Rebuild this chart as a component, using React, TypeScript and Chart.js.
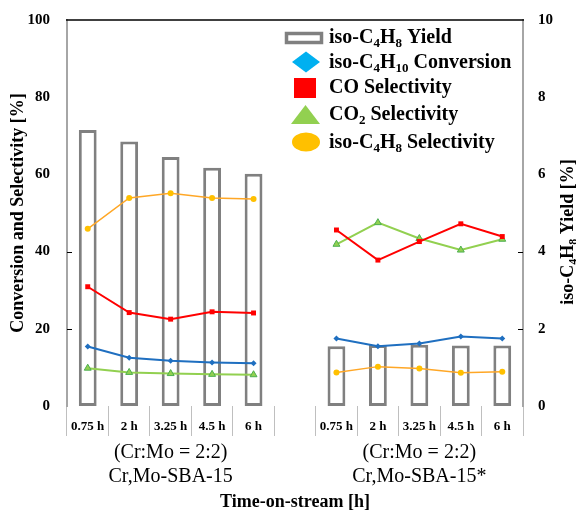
import { useEffect, useRef } from 'react';
import { Chart, registerables } from 'chart.js';

Chart.register(...registerables);

const FONT = "'Liberation Serif', 'Times New Roman', serif";

const categories = ['0.75 h', '2 h', '3.25 h', '4.5 h', '6 h', '', '0.75 h', '2 h', '3.25 h', '4.5 h', '6 h'];
const yieldData = [7.15, 6.85, 6.45, 6.17, 6.02, null, 1.55, 1.58, 1.59, 1.57, 1.57];
const conversion = [15.4, 12.5, 11.7, 11.3, 11.1, null, 17.5, 15.5, 16.2, 18.0, 17.5];
const coSelectivity = [30.9, 24.2, 22.5, 24.4, 24.1, null, 45.6, 37.8, 42.6, 47.2, 43.9];
const co2Selectivity = [9.8, 8.7, 8.4, 8.2, 8.1, null, 41.9, 47.5, 43.4, 40.4, 43.2];
const isoSelectivity = [45.9, 53.9, 55.1, 53.9, 53.6, null, 8.7, 10.2, 9.7, 8.6, 8.9];

const groupCenters = [2, 8];
const groupLabels = [
  ['(Cr:Mo = 2:2)', 'Cr,Mo-SBA-15'],
  ['(Cr:Mo = 2:2)', 'Cr,Mo-SBA-15*'],
];
const innerTicksLeft = [20, 40];
const innerTicksRight = [2, 4];

type Part = [string, boolean];

const legendItems: { parts: Part[]; kind: string; color: string }[] = [
  { parts: [['iso-C', false], ['4', true], ['H', false], ['8', true], [' Yield', false]], kind: 'bar', color: '#808080' },
  { parts: [['iso-C', false], ['4', true], ['H', false], ['10', true], [' Conversion', false]], kind: 'diamond', color: '#00B0F0' },
  { parts: [['CO Selectivity', false]], kind: 'square', color: '#FF0000' },
  { parts: [['CO', false], ['2', true], [' Selectivity', false]], kind: 'triangle', color: '#92D050' },
  { parts: [['iso-C', false], ['4', true], ['H', false], ['8', true], [' Selectivity', false]], kind: 'circle', color: '#FFC000' },
];
const rightTitle: Part[] = [['iso-C', false], ['4', true], ['H', false], ['8', true], [' Yield [%]', false]];

function partsWidth(ctx: CanvasRenderingContext2D, parts: Part[], size: number) {
  let w = 0;
  for (const [t, sub] of parts) {
    ctx.font = `bold ${sub ? Math.round(size * 0.65) : size}px ${FONT}`;
    w += ctx.measureText(t).width;
  }
  return w;
}

function drawRich(ctx: CanvasRenderingContext2D, x: number, y: number, parts: Part[], size: number) {
  let cx = x;
  ctx.textAlign = 'left';
  ctx.textBaseline = 'alphabetic';
  for (const [t, sub] of parts) {
    const s = sub ? Math.round(size * 0.65) : size;
    ctx.font = `bold ${s}px ${FONT}`;
    ctx.fillText(t, cx, sub ? y + size * 0.22 : y);
    cx += ctx.measureText(t).width;
  }
}

const overlayPlugin = {
  id: 'overlay',
  afterDraw(chart: any) {
    const ctx: CanvasRenderingContext2D = chart.ctx;
    const { left, right, top } = chart.chartArea;
    const xs = chart.scales.x;
    const ys = chart.scales.y;
    const y1 = chart.scales.y1;
    ctx.save();
    // top frame line
    ctx.strokeStyle = '#000';
    ctx.lineWidth = 1.5;
    ctx.beginPath();
    ctx.moveTo(left - 1, top);
    ctx.lineTo(right + 1, top);
    ctx.stroke();
    // inner tick marks
    ctx.lineWidth = 1;
    innerTicksLeft.forEach((v) => {
      const py = Math.round(ys.getPixelForValue(v)) + 0.5;
      ctx.beginPath();
      ctx.moveTo(left, py);
      ctx.lineTo(left + 5, py);
      ctx.stroke();
    });
    innerTicksRight.forEach((v) => {
      const py = Math.round(y1.getPixelForValue(v)) + 0.5;
      ctx.beginPath();
      ctx.moveTo(right - 5, py);
      ctx.lineTo(right, py);
      ctx.stroke();
    });
    // group labels
    ctx.fillStyle = '#000';
    ctx.textAlign = 'center';
    ctx.textBaseline = 'middle';
    ctx.font = `20px ${FONT}`;
    groupCenters.forEach((idx, i) => {
      const gx = xs.getPixelForValue(idx);
      ctx.fillText(groupLabels[i][0], gx, 453);
      ctx.fillText(groupLabels[i][1], gx, 477);
    });
    // right axis title
    ctx.save();
    ctx.translate(567, 232);
    ctx.rotate(-Math.PI / 2);
    const tw = partsWidth(ctx, rightTitle, 18);
    drawRich(ctx, -tw / 2, 6, rightTitle, 18);
    ctx.restore();
    // legend
    const baselines = [43, 68, 93, 120, 148];
    const centers = [38, 62, 88, 114.5, 142];
    legendItems.forEach((it, i) => {
      const cy = centers[i];
      ctx.fillStyle = it.color;
      ctx.strokeStyle = it.color;
      if (it.kind === 'bar') {
        ctx.lineWidth = 3.5;
        ctx.strokeRect(286.5, cy - 4.5, 35, 9);
      } else if (it.kind === 'diamond') {
        ctx.beginPath();
        ctx.moveTo(306, cy - 10.5);
        ctx.lineTo(320, cy);
        ctx.lineTo(306, cy + 10.5);
        ctx.lineTo(292, cy);
        ctx.closePath();
        ctx.fill();
      } else if (it.kind === 'square') {
        ctx.fillRect(294, cy - 10, 22, 20);
      } else if (it.kind === 'triangle') {
        ctx.beginPath();
        ctx.moveTo(305.5, cy - 9.5);
        ctx.lineTo(320, cy + 9.5);
        ctx.lineTo(291, cy + 9.5);
        ctx.closePath();
        ctx.fill();
      } else {
        ctx.beginPath();
        ctx.ellipse(306, cy, 14, 9.5, 0, 0, Math.PI * 2);
        ctx.fill();
      }
      ctx.fillStyle = '#000';
      drawRich(ctx, 329, baselines[i], it.parts, 20);
    });
    ctx.restore();
  },
};

export default function App() {
  const ref = useRef<HTMLCanvasElement>(null);
  useEffect(() => {
    if (!ref.current) return;
    const chart = new Chart(ref.current, {
      type: 'bar',
      data: {
        labels: categories,
        datasets: [
          {
            type: 'line',
            label: 'iso-C4H10 Conversion',
            data: conversion,
            yAxisID: 'y',
            borderColor: '#1F6FC0',
            backgroundColor: '#1F6FC0',
            borderWidth: 2,
            pointStyle: 'rectRot',
            pointRadius: 3,
            pointBorderWidth: 0,
            spanGaps: false,
            order: 1,
          },
          {
            type: 'line',
            label: 'CO Selectivity',
            data: coSelectivity,
            yAxisID: 'y',
            borderColor: '#FF0000',
            backgroundColor: '#FF0000',
            borderWidth: 2,
            pointStyle: 'rect',
            pointRadius: 3.5,
            pointBorderWidth: 0,
            spanGaps: false,
            order: 2,
          },
          {
            type: 'line',
            label: 'CO2 Selectivity',
            data: co2Selectivity,
            yAxisID: 'y',
            borderColor: '#92D050',
            backgroundColor: '#92D050',
            borderWidth: 2,
            pointStyle: 'triangle',
            pointRadius: 4,
            pointBorderWidth: 1,
            pointBorderColor: '#4CAF50',
            spanGaps: false,
            order: 3,
          },
          {
            type: 'line',
            label: 'iso-C4H8 Selectivity',
            data: isoSelectivity,
            yAxisID: 'y',
            borderColor: '#FFA726',
            backgroundColor: '#FFC000',
            borderWidth: 1.5,
            pointStyle: 'circle',
            pointRadius: 3,
            pointBorderWidth: 0,
            spanGaps: false,
            order: 4,
          },
          {
            type: 'bar',
            label: 'iso-C4H8 Yield',
            data: yieldData,
            yAxisID: 'y1',
            backgroundColor: '#FFFFFF',
            borderColor: '#808080',
            borderWidth: 3,
            borderSkipped: false,
            barPercentage: 0.43,
            categoryPercentage: 1,
            order: 10,
          },
        ],
      },
      options: {
        responsive: true,
        maintainAspectRatio: false,
        animation: false,
        events: [],
        layout: { padding: { top: 20, left: 0, right: 0, bottom: 0 } },
        plugins: {
          legend: { display: false },
          tooltip: { enabled: false },
        },
        scales: {
          x: {
            type: 'category',
            offset: true,
            grid: {
              display: true,
              drawOnChartArea: false,
              drawTicks: true,
              tickLength: 30,
              color: '#BFBFBF',
              lineWidth: 1,
              offset: true,
            },
            border: { display: false },
            ticks: {
              color: '#000',
              font: { family: FONT, size: 13, weight: 'bold' },
              padding: -17,
              autoSkip: false,
              maxRotation: 0,
              minRotation: 0,
            },
            title: {
              display: true,
              text: 'Time-on-stream [h]',
              color: '#000',
              font: { family: FONT, size: 18, weight: 'bold' },
              padding: { top: 0, bottom: 0 },
            },
            afterFit: (s: any) => {
              s.height = 107;
            },
          },
          y: {
            position: 'left',
            min: 0,
            max: 100,
            ticks: {
              stepSize: 20,
              color: '#000',
              font: { family: FONT, size: 15, weight: 'bold' },
              padding: 9,
            },
            grid: { display: false },
            border: { display: true, color: '#A6A6A6', width: 2 },
            title: {
              display: true,
              text: 'Conversion and Selectivity [%]',
              color: '#000',
              font: { family: FONT, size: 18, weight: 'bold' },
              padding: { top: 8, bottom: 0 },
            },
            afterFit: (s: any) => {
              s.width = 67;
            },
          },
          y1: {
            position: 'right',
            min: 0,
            max: 10,
            ticks: {
              stepSize: 2,
              color: '#000',
              font: { family: FONT, size: 15, weight: 'bold' },
              padding: 7,
            },
            grid: { display: false },
            border: { display: true, color: '#A6A6A6', width: 2 },
            afterFit: (s: any) => {
              s.width = 53;
            },
          },
        },
      },
      plugins: [overlayPlugin],
    } as any);
    return () => chart.destroy();
  }, []);
  return (
    <div style={{ position: 'absolute', left: 0, top: 0, width: 576, height: 513 }}>
      <canvas ref={ref} />
    </div>
  );
}
